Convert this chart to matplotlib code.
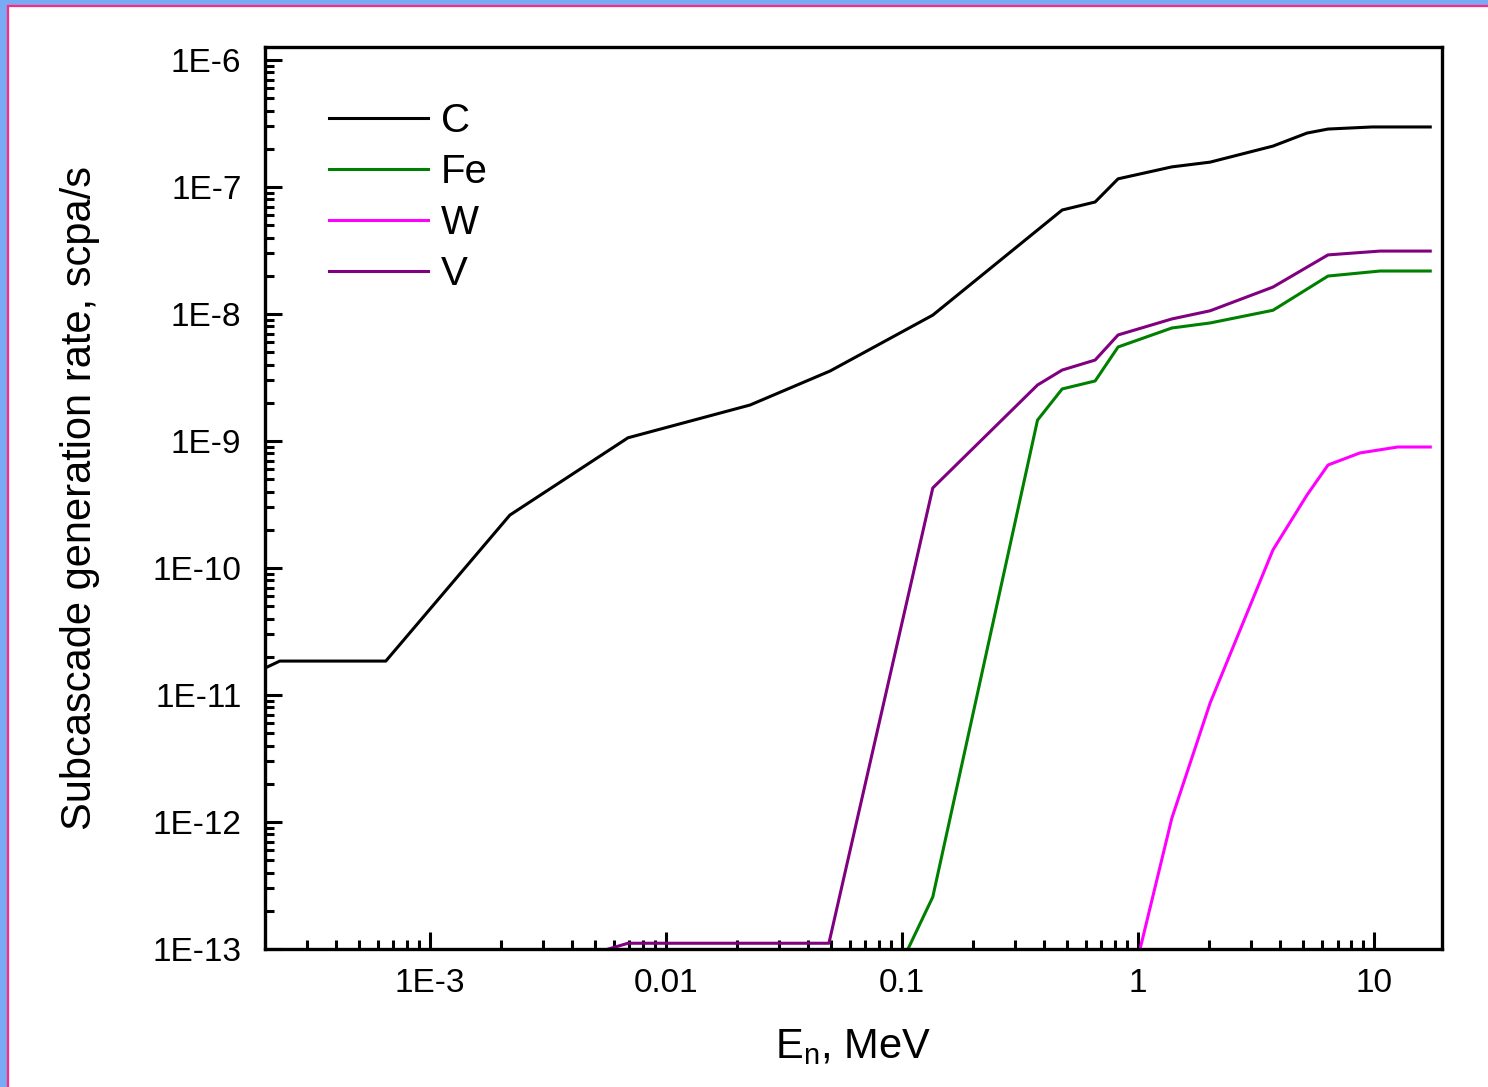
import matplotlib
matplotlib.use("Agg")
import matplotlib.pyplot as plt
from matplotlib.patches import Rectangle
from matplotlib.ticker import LogLocator, FixedLocator, NullFormatter

plt.rcParams['font.family'] = ['Liberation Sans', 'DejaVu Sans']

# neutron energy, MeV and subcascade generation rate, scpa/s
c_energy = [2.0e-4, 2.31e-4, 6.5e-4, 2.18e-3, 6.9e-3, 0.0227, 0.0496, 0.135,
            0.477, 0.658, 0.823, 1.39, 2.02, 3.73, 5.2, 6.38, 9.8, 17.3]
c_rate = [1.63e-11, 1.85e-11, 1.85e-11, 2.61e-10, 1.06e-9, 1.92e-9, 3.56e-9, 9.8e-9,
          6.59e-8, 7.62e-8, 1.16e-7, 1.44e-7, 1.57e-7, 2.10e-7, 2.66e-7, 2.86e-7,
          2.97e-7, 2.97e-7]

fe_energy = [0.106, 0.135, 0.375, 0.477, 0.658, 0.823, 1.39, 2.02, 3.73, 6.38, 10.6, 17.3]
fe_rate = [1.0e-13, 2.57e-13, 1.46e-9, 2.57e-9, 2.97e-9, 5.5e-9, 7.76e-9, 8.5e-9,
           1.07e-8, 1.99e-8, 2.18e-8, 2.18e-8]

w_energy = [1.02, 1.39, 2.02, 3.73, 5.2, 6.38, 8.7, 12.6, 17.3]
w_rate = [1.0e-13, 1.07e-12, 8.65e-12, 1.39e-10, 3.76e-10, 6.47e-10, 8.05e-10,
          8.97e-10, 8.97e-10]

v_energy = [5.5e-3, 6.9e-3, 0.049, 0.135, 0.375, 0.477, 0.658, 0.823, 1.39, 2.02,
            3.73, 6.38, 10.6, 17.3]
v_rate = [9.8e-14, 1.11e-13, 1.11e-13, 4.27e-10, 2.76e-9, 3.62e-9, 4.34e-9, 6.84e-9,
          9.14e-9, 1.06e-8, 1.63e-8, 2.92e-8, 3.13e-8, 3.13e-8]

x_ticks = [1e-3, 1e-2, 1e-1, 1, 10]
x_labels = ['1E-3', '0.01', '0.1', '1', '10']
y_ticks = [1e-13, 1e-12, 1e-11, 1e-10, 1e-9, 1e-8, 1e-7, 1e-6]
y_labels = ['1E-13', '1E-12', '1E-11', '1E-10', '1E-9', '1E-8', '1E-7', '1E-6']

fig = plt.figure(figsize=(14.88, 10.87), dpi=100)
fig.patch.set_facecolor('#79aaf4')
# white page with pink border, kept behind the axes
fig.patches.append(Rectangle((8 / 1488, -0.01), 1.01, 1 - 6 / 1087 + 0.01,
                             transform=fig.transFigure, facecolor='white',
                             edgecolor='#ff2a80', linewidth=1.6, zorder=-10))

ax = fig.add_axes([265 / 1488, 1 - 949 / 1087, (1442 - 265) / 1488, (949 - 47) / 1087])
ax.set_zorder(5)
ax.set_facecolor('white')
ax.set_xscale('log')
ax.set_yscale('log')

lw = 2.2
ax.plot(c_energy, c_rate, color='black', lw=lw, label='C')
ax.plot(fe_energy, fe_rate, color='#008000', lw=lw, label='Fe')
ax.plot(w_energy, w_rate, color='#ff00ff', lw=lw, label='W')
ax.plot(v_energy, v_rate, color='#800080', lw=lw, label='V')

ax.set_xlim(2.0e-4, 19.4)
ax.set_ylim(1e-13, 1.266e-6)

ax.xaxis.set_major_locator(FixedLocator(x_ticks))
ax.set_xticklabels(x_labels)
ax.xaxis.set_minor_locator(LogLocator(base=10, subs=range(2, 10), numticks=20))
ax.xaxis.set_minor_formatter(NullFormatter())
ax.yaxis.set_major_locator(FixedLocator(y_ticks))
ax.set_yticklabels(y_labels)
ax.yaxis.set_minor_locator(LogLocator(base=10, subs=range(2, 10), numticks=20))
ax.yaxis.set_minor_formatter(NullFormatter())

ax.tick_params(which='major', direction='in', length=12, width=2.2, labelsize=24, pad=14)
ax.tick_params(which='minor', direction='in', length=6.5, width=2.2)
ax.tick_params(axis='y', pad=17)
for s in ax.spines.values():
    s.set_linewidth(2.4)

ax.set_xlabel('E$_{\\mathregular{n}}$, MeV', fontsize=30, labelpad=20)
ax.set_ylabel('Subcascade generation rate, scpa/s', fontsize=30, labelpad=38)

ax.legend(loc='upper left', bbox_to_anchor=(0.0545, 0.939), frameon=False, fontsize=29,
          handlelength=2.45, handletextpad=0.32, labelspacing=0.32, borderpad=0,
          borderaxespad=0)

fig.savefig('out.png', dpi=100, facecolor=fig.get_facecolor())
